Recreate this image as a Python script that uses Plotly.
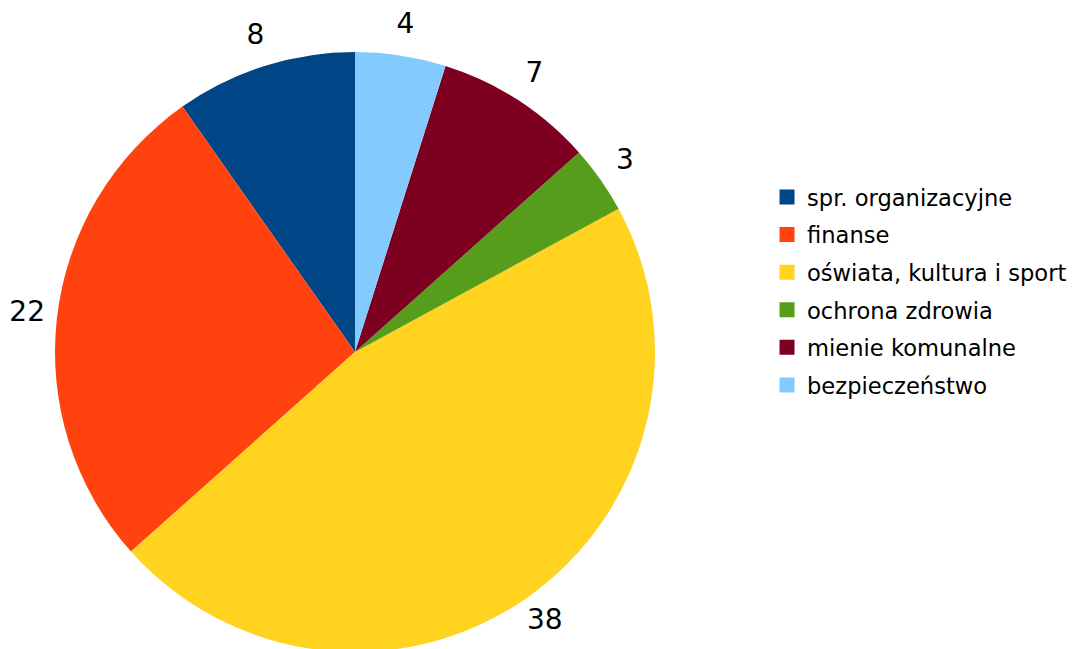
import math
import plotly.graph_objects as go

labels = ["spr. organizacyjne", "finanse", "oświata, kultura i sport",
          "ochrona zdrowia", "mienie komunalne", "bezpieczeństwo"]
values = [8, 22, 38, 3, 7, 4]
colors = ["#004586", "#ff420e", "#ffd320", "#579d1c", "#7e0021", "#83caff"]

W, H = 1080, 649
total = sum(values)
# first slice should start at 12 o'clock and run counterclockwise
first_angle = values[0] / total * 360

# value labels sit on a ring 10% outside the rim, at each slice's mid angle
label_r = 1.1
lab_x, lab_y = [], []
acc = 0
for v in values:
    a = math.radians((acc + v / 2) / total * 360)
    lab_x.append(-label_r * math.sin(a))
    lab_y.append(label_r * math.cos(a))
    acc += v

pie_x = [0.0435, 0.5991]
pie_y = [0.0077, 0.9322]

# full-page hidden axes, scaled so that 1 unit = pie radius, origin = pie centre
cx = W * (pie_x[0] + pie_x[1]) / 2
cy = H * (pie_y[0] + pie_y[1]) / 2
rad = min(W * (pie_x[1] - pie_x[0]), H * (pie_y[1] - pie_y[0])) / 2
x_range = [-cx / rad, (W - cx) / rad]
y_range = [-cy / rad, (H - cy) / rad]

fig = go.Figure(go.Pie(
    labels=labels,
    values=values,
    marker=dict(colors=colors, line=dict(width=0)),
    sort=False,
    direction="counterclockwise",
    rotation=-first_angle,
    textinfo="none",
    hoverinfo="label+value",
    showlegend=False,
    domain=dict(x=pie_x, y=pie_y),
))

fig.add_trace(go.Scatter(
    x=lab_x, y=lab_y,
    mode="text",
    text=[str(v) for v in values],
    textposition="middle center",
    textfont=dict(size=28, color="black", family="DejaVu Sans"),
    cliponaxis=False,
    hoverinfo="skip",
    showlegend=False,
))

# legend entries as dummy traces so the row spacing can be opened up
for lab, col in zip(labels, colors):
    fig.add_trace(go.Scatter(
        x=[None], y=[None], mode="markers", name=lab, legendgroup=lab,
        marker=dict(symbol="square", size=15, color=col),
    ))

fig.update_layout(
    width=W, height=H,
    margin=dict(l=0, r=0, t=0, b=0),
    paper_bgcolor="white",
    plot_bgcolor="rgba(0,0,0,0)",
    font=dict(family="DejaVu Sans", color="black"),
    xaxis=dict(visible=False, domain=[0, 1], range=x_range, fixedrange=True),
    yaxis=dict(visible=False, domain=[0, 1], range=y_range, fixedrange=True),
    legend=dict(x=0.7028, y=0.5635, xanchor="left", yanchor="middle",
                font=dict(size=22.6, color="black"), itemwidth=30,
                tracegroupgap=5.2),
)

fig.write_html("out.html")
